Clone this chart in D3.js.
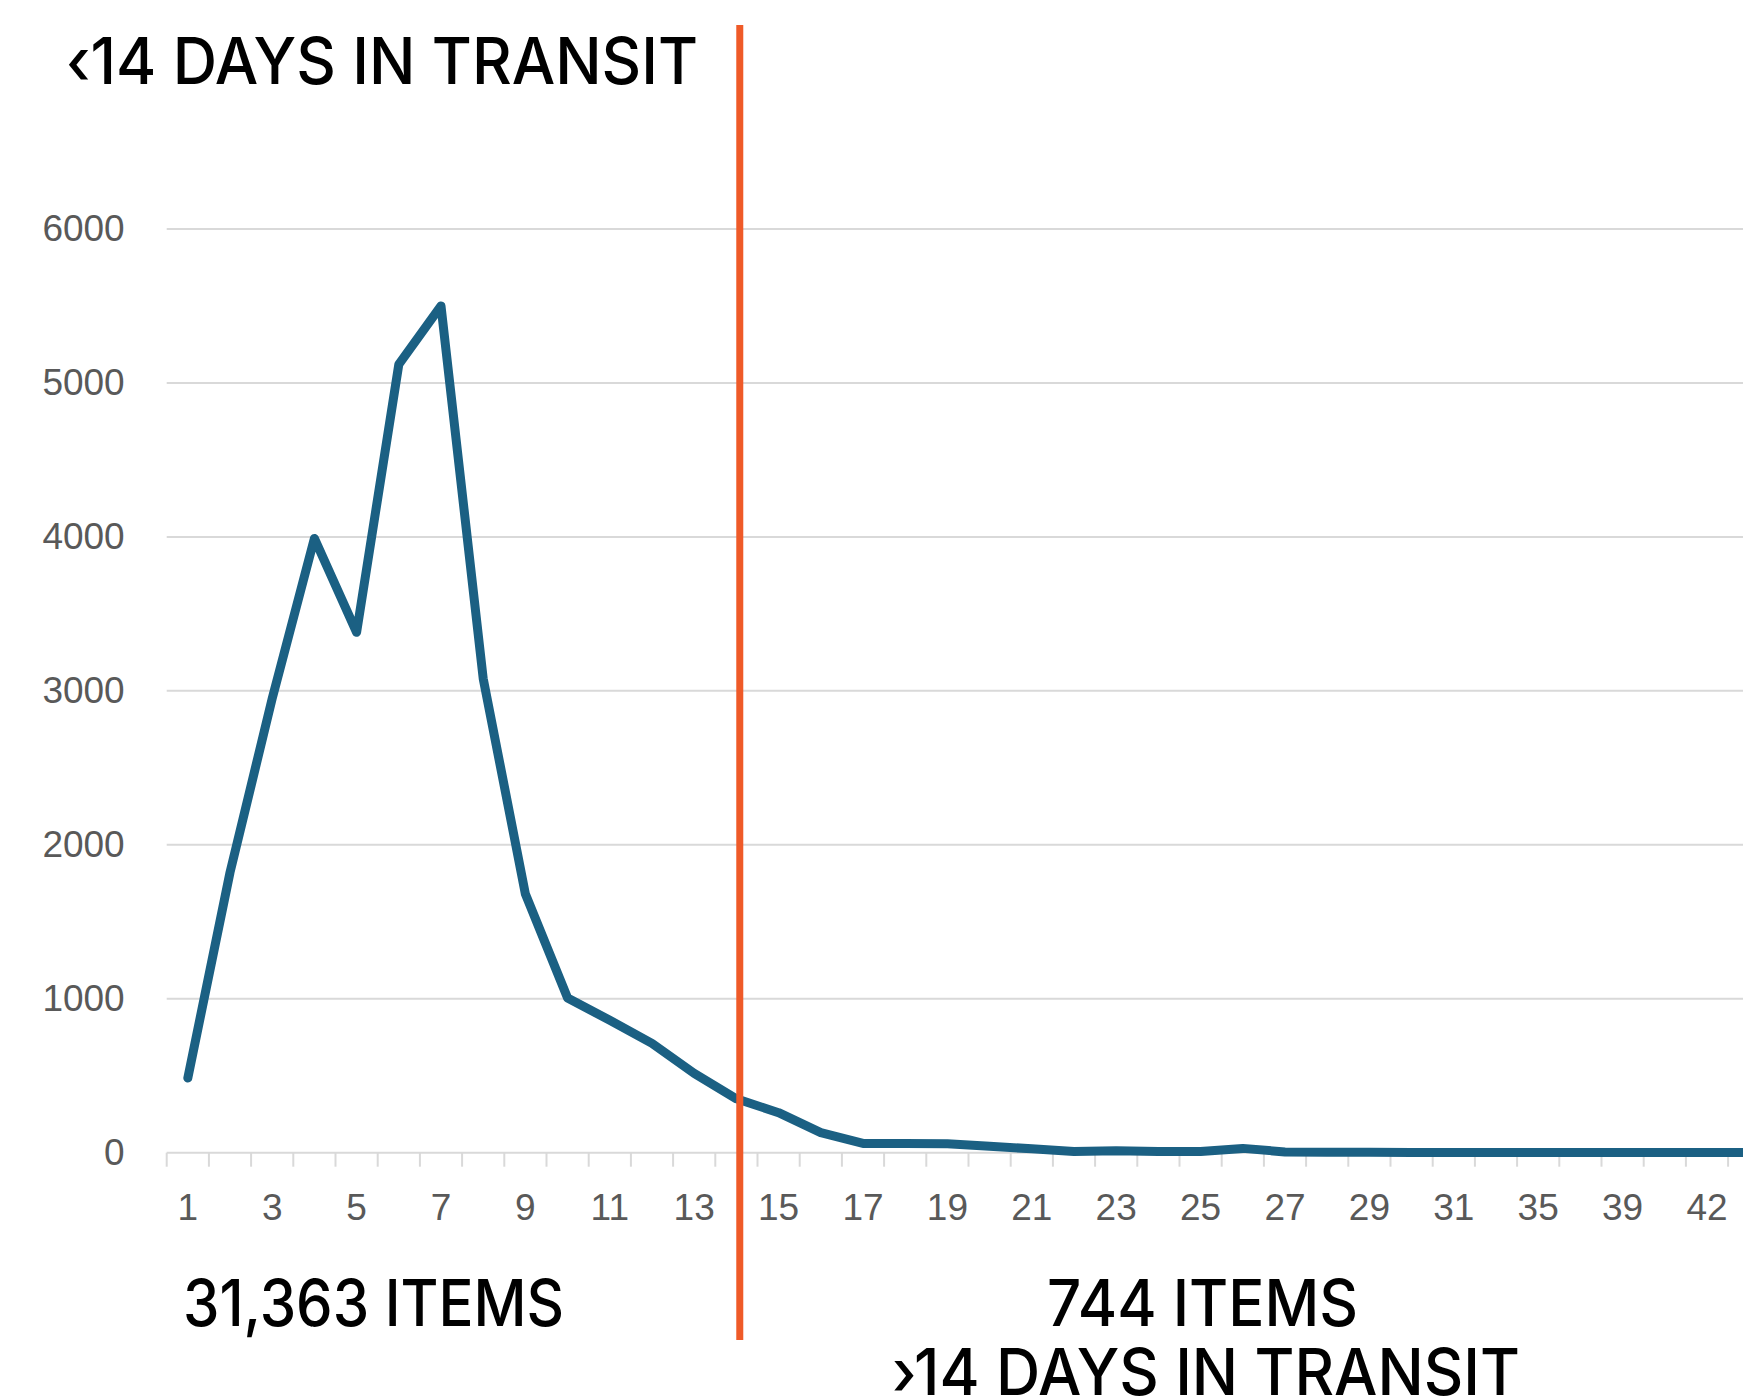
<!DOCTYPE html>
<html>

<head>
  <script src="https://d3js.org/d3.v7.min.js"></script>
  <style>
    body {
      margin: 0;
      background: #fff;
    }

    .tick-label {
      font-family: "Liberation Sans", Arial, sans-serif;
      font-size: 37px;
      fill: #595959;
    }

    .note {
      font-family: Inter, "Open Sans", sans-serif;
      font-size: 64px;
      font-weight: 500;
      fill: #000;
    }
  </style>
</head>

<body>
  <div id="chart"></div>

  <script>
    // days in transit (categories on the x axis)
    const days = ["1", "2", "3", "4", "5", "6", "7", "8", "9", "10",
      "11", "12", "13", "14", "15", "16", "17", "18", "19", "20",
      "21", "22", "23", "24", "25", "26", "27", "28", "29", "30",
      "31", "33", "35", "37", "39", "40", "42", "44"];

    // number of items per day
    const items = [485, 1820, 2950, 3990, 3380, 5120, 5500, 3080, 1680, 1005,
      860, 710, 515, 350, 260, 130, 60, 60, 58, 42,
      25, 8, 12, 7, 8, 28, 5, 3, 3, 2,
      2, 2, 1, 1, 1, 1, 1, 1];

    const yTicks = [0, 1000, 2000, 3000, 4000, 5000, 6000];

    const notes = [
      { text: "\u203914 DAYS IN TRANSIT", x: 66, y: 84, w: 632 },
      { text: "31,363 ITEMS", x: 183, y: 1326, w: 381 },
      { text: "744 ITEMS", x: 1047, y: 1326, w: 311 },
      { text: "\u203A14 DAYS IN TRANSIT", x: 892, y: 1395, w: 628 }
    ];

    const data = days.map((d, i) => ({ day: d, value: items[i] }));

    const width = 1743,
      height = 1399;

    const svg = d3.select("#chart")
      .append("svg")
      .attr("width", width)
      .attr("height", height);

    svg.append("rect")
      .attr("width", width)
      .attr("height", height)
      .attr("fill", "#fff");

    // plot runs off the right edge, like the cropped original
    const left = 166.7, band = 42.2;
    const x = d3.scaleBand()
      .domain(days)
      .range([left, left + band * days.length])
      .padding(0);

    const y = d3.scaleLinear()
      .domain([0, 6000])
      .range([1152.7, 229]);

    // gridlines
    svg.append("g")
      .selectAll("line")
      .data(yTicks)
      .enter().append("line")
      .attr("x1", left)
      .attr("x2", width)
      .attr("y1", d => y(d))
      .attr("y2", d => y(d))
      .attr("stroke", "#d9d9d9")
      .attr("stroke-width", 2);

    // y axis labels
    const yAxis = svg.append("g")
      .attr("transform", `translate(${left},0)`)
      .call(d3.axisLeft(y).tickValues(yTicks).tickFormat(d3.format("d")).tickSize(0).tickPadding(42));
    yAxis.select(".domain").remove();
    yAxis.selectAll("text").attr("class", "tick-label").attr("font-size", null).attr("font-family", null);

    // x axis: ticks between categories, labels on every other one
    const xAxis = svg.append("g")
      .attr("transform", `translate(0,${y(0)})`)
      .call(d3.axisBottom(x).tickSize(0).tickPadding(41)
        .tickFormat((d, i) => i % 2 === 0 ? d : ""));
    xAxis.select(".domain").remove();
    xAxis.selectAll("text").attr("class", "tick-label").attr("font-size", null).attr("font-family", null);

    const bounds = days.map(d => x(d)).concat([x(days[days.length - 1]) + x.bandwidth()]);
    svg.append("g")
      .selectAll("line")
      .data(bounds)
      .enter().append("line")
      .attr("x1", d => d)
      .attr("x2", d => d)
      .attr("y1", y(0))
      .attr("y2", y(0) + 14)
      .attr("stroke", "#d9d9d9")
      .attr("stroke-width", 2);

    // the line
    const line = d3.line()
      .x(d => x(d.day) + x.bandwidth() / 2)
      .y(d => y(d.value));

    svg.append("path")
      .datum(data)
      .attr("fill", "none")
      .attr("stroke", "#1b6083")
      .attr("stroke-width", 9)
      .attr("stroke-linejoin", "round")
      .attr("stroke-linecap", "round")
      .attr("d", line);

    // 14 day marker
    const cut = x("14") + x.bandwidth() * 0.58;
    svg.append("line")
      .attr("x1", cut)
      .attr("x2", cut)
      .attr("y1", 25)
      .attr("y2", 1340)
      .attr("stroke", "#ef5a28")
      .attr("stroke-width", 7);

    // notes
    svg.append("g")
      .selectAll("text")
      .data(notes)
      .enter().append("text")
      .attr("class", "note")
      .attr("x", d => d.x)
      .attr("y", d => d.y)
      .attr("textLength", d => d.w)
      .attr("lengthAdjust", "spacingAndGlyphs")
      .text(d => d.text);
  </script>
</body>

</html>
